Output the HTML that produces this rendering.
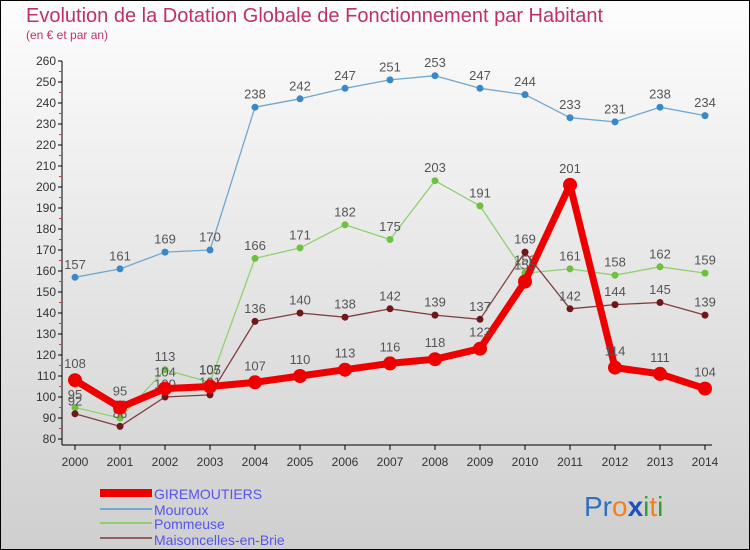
<!DOCTYPE html>
<html><head><meta charset="utf-8"><style>
body{margin:0;font-family:"Liberation Sans",sans-serif}
#c{width:750px;height:550px;position:relative;overflow:hidden}
</style></head><body>
<div id="c">
<svg id="s" width="750" height="550" xmlns="http://www.w3.org/2000/svg">
<defs><linearGradient id="bg" x1="0" y1="0" x2="0" y2="1"><stop offset="0" stop-color="#fdfdfd"/><stop offset="1" stop-color="#cfcfcf"/></linearGradient></defs>
<rect x="0.5" y="0.5" width="749" height="549" fill="url(#bg)" stroke="#000"/>
<text x="26" y="22" font-size="20" fill="#c0306a">Evolution de la Dotation Globale de Fonctionnement par Habitant</text>
<text x="26" y="39" font-size="12" fill="#c0306a">(en € et par an)</text>
<g id="ax"></g><g id="ser"></g>
<g font-size="14" fill="#5555ee">
<rect x="100" y="489" width="52" height="8" fill="#ee0000"/>
<text x="154" y="499">GIREMOUTIERS</text>
<rect x="100" y="508" width="52" height="2" fill="#70a8d0"/>
<text x="154" y="515">Mouroux</text>
<rect x="100" y="522" width="52" height="2" fill="#90d070"/>
<text x="154" y="529">Pommeuse</text>
<rect x="100" y="537" width="52" height="2" fill="#906060"/>
<text x="154" y="545">Maisoncelles-en-Brie</text>
</g>
<g font-size="28">
<text x="584" y="516"><tspan fill="#3070c0">Pr</tspan><tspan fill="#f08020">o</tspan><tspan fill="#2050c0" font-weight="bold">x</tspan><tspan fill="#30a030">i</tspan><tspan fill="#f08020">t</tspan><tspan fill="#30a030">i</tspan></text>
</g>
</svg></div>
<script>
const years=["2000","2001","2002","2003","2004","2005","2006","2007","2008","2009","2010","2011","2012","2013","2014"];
const gire=[108,95,104,105,107,110,113,116,118,123,155,201,114,111,104];
const mouroux=[157,161,169,170,238,242,247,251,253,247,244,233,231,238,234];
const pommeuse=[95,90,113,107,166,171,182,175,203,191,159,161,158,162,159];
const maison=[92,86,100,101,136,140,138,142,139,137,169,142,144,145,139];
const yTicks=[80,90,100,110,120,130,140,150,160,170,180,190,200,210,220,230,240,250,260];
const NS="http://www.w3.org/2000/svg";
const X=i=>75+i*45, Y=v=>439-(v-80)*2.1;
function mk(t,a,p){const e=document.createElementNS(NS,t);for(const k in a)e.setAttribute(k,a[k]);p.appendChild(e);return e;}
const ax=document.getElementById('ax'),ser=document.getElementById('ser');
let l=mk('line',{x1:62,y1:61,x2:62,y2:445,stroke:'#000'},ax);

l=mk('line',{x1:62,y1:445,x2:712,y2:445,stroke:'#000'},ax);

yTicks.forEach(v=>{mk('line',{x1:58,y1:Y(v),x2:62,y2:Y(v),stroke:'#000'},ax);
 if(v<260)mk('line',{x1:59,y1:Y(v+5),x2:62,y2:Y(v+5),stroke:'#e03030'},ax);
 const t=mk('text',{x:56,y:Y(v)+4,'font-size':12,fill:'#333','text-anchor':'end'},ax);t.textContent=v;
 });
years.forEach((y,i)=>{mk('line',{x1:X(i),y1:445,x2:X(i),y2:450,stroke:'#000'},ax);
 const t=mk('text',{x:X(i),y:466,'font-size':12,fill:'#333','text-anchor':'middle'},ax);t.textContent=y;
 });
function series(d,name,col,dot,w,r){const g=mk('g',{},ser);
 
 mk('polyline',{points:d.map((v,i)=>X(i)+','+Y(v)).join(' '),fill:'none',stroke:col,'stroke-width':w,'stroke-linejoin':'round'},g);
 d.forEach((v,i)=>{const c=mk('circle',{cx:X(i),cy:Y(v),r:r,fill:dot},g);
  
  const t=mk('text',{x:X(i),y:Y(v)-(r+5),'font-size':13,fill:'#555','text-anchor':'middle'},g);t.textContent=v;
  });}
series(mouroux,'mouroux','#70a8d0','#3a88c8',1.3,3.5);
series(pommeuse,'pommeuse','#90d070','#70c040',1.3,3.5);
series(maison,'maisoncelles','#804040','#701818',1.3,3.5);
series(gire,'giremoutiers','#ee0000','#ee0000',7,7);
</script>
</body></html>
